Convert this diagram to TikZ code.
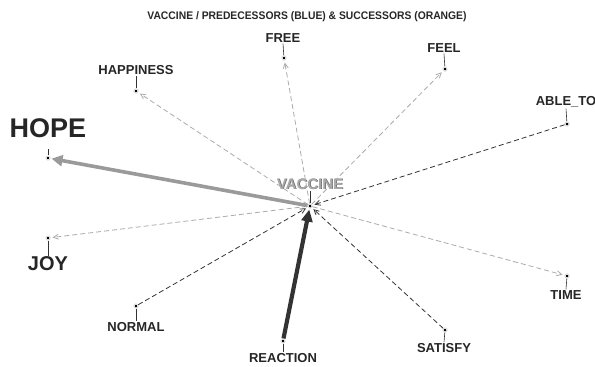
\documentclass[tikz,border=0pt]{standalone}
\usepackage{fontspec}
\setmainfont{Liberation Sans}
\usetikzlibrary{arrows.meta}
\definecolor{darkc}{HTML}{333333}
\definecolor{textc}{HTML}{262626}
\definecolor{greyc}{HTML}{9A9A9A}
\definecolor{lightc}{HTML}{ABABAB}
\definecolor{haloc}{HTML}{DDDDDD}
\begin{document}
\begin{tikzpicture}[x=1pt,y=-1pt,
  pt/.style={circle,fill=black,inner sep=0pt,minimum size=4pt,draw=haloc,line width=1.2pt},
  lbl/.style={font=\bfseries\fontsize{13}{13}\selectfont,text=textc,inner sep=1pt},
  tick/.style={draw=darkc,line width=0.6pt},
  inedge/.style={draw=darkc,dashed,dash pattern=on 5pt off 3pt,line width=0.8pt,-{Straight Barb[length=5pt,width=5pt]},shorten >=2pt},
  outedge/.style={draw=lightc,dashed,dash pattern=on 5pt off 3pt,line width=0.8pt,-{Straight Barb[length=5pt,width=5pt]},shorten >=2pt},
  thickgrey/.style={draw=greyc,line width=3.6pt,-{Triangle[length=11pt,width=11pt]},shorten >=1pt},
  thickdark/.style={draw=darkc,line width=4.2pt,-{Triangle[length=12pt,width=11pt]},shorten >=1pt}
]
\useasboundingbox (0,0) rectangle (595,367);
\node[font=\bfseries\fontsize{11}{11}\selectfont,text=textc,xscale=0.94] (title) at (307,17) {VACCINE / PREDECESSORS (BLUE) \& SUCCESSORS (ORANGE)};
% points
\node[pt] (vaccine) at (310,206) {};
\node[pt] (free) at (284,58) {};
\node[pt] (feel) at (445,69) {};
\node[pt] (happiness) at (136,91) {};
\node[pt] (ableto) at (567,124) {};
\node[pt] (hope) at (48,158) {};
\node[pt] (joy) at (48,238) {};
\node[pt] (time) at (567,276) {};
\node[pt] (normal) at (136,306) {};
\node[pt] (reaction) at (283,341) {};
\node[pt] (satisfy) at (445,330) {};
% labels
\node[lbl] (freel) at (283,38) {FREE};
\node[lbl] (feell) at (444,48) {FEEL};
\node[lbl] (happinessl) at (136,70) {HAPPINESS};
\node[lbl] (abletol) at (566,102) {ABLE\_TO};
\node[lbl,font=\bfseries\fontsize{27}{27}\selectfont] (hopel) at (48,128) {HOPE};
\node[lbl,font=\bfseries\fontsize{20}{20}\selectfont] (joyl) at (48,264) {JOY};
\node[lbl] (timel) at (566,295) {TIME};
\node[lbl] (normall) at (136,327) {NORMAL};
\node[lbl] (reactionl) at (283,358) {REACTION};
\node[lbl] (satisfyl) at (444,348) {SATISFY};
\node[lbl,font=\bfseries\fontsize{15}{15}\selectfont,text=darkc!75,xshift=0.8pt,yshift=-0.8pt] (vaccineshadow) at (310,184) {VACCINE};
\node[lbl,font=\bfseries\fontsize{15}{15}\selectfont,text=greyc!85] (vaccinel) at (310,184) {VACCINE};
% ticks
\draw[tick] (free) -- (freel.south);
\draw[tick] (feel) -- (feell.south);
\draw[tick] (happiness) -- (happinessl.south);
\draw[tick] (ableto) -- (abletol.south);
\draw[tick] (hope) -- ([yshift=9pt]hope.center);
\draw[tick] (joy) -- (joyl.north);
\draw[tick] (time) -- (timel.north);
\draw[tick] (normal) -- (normall.north);
\draw[tick] (reaction) -- (reactionl.north);
\draw[tick] (satisfy) -- (satisfyl.north);
\draw[tick] (vaccine) -- (vaccinel.south);
% edges out (light)
\draw[outedge] (vaccine) -- (free);
\draw[outedge] (vaccine) -- (feel);
\draw[outedge] (vaccine) -- (happiness);
\draw[outedge] (vaccine) -- (joy);
\draw[outedge] (vaccine) -- (time);
% edges in (dark)
\draw[inedge] (ableto) -- (vaccine);
\draw[inedge] (normal) -- (vaccine);
\draw[inedge] (satisfy) -- (vaccine);
% thick
\draw[thickgrey] (vaccine) -- (hope);
\draw[thickdark] (reaction) -- (vaccine);
\end{tikzpicture}
\end{document}
